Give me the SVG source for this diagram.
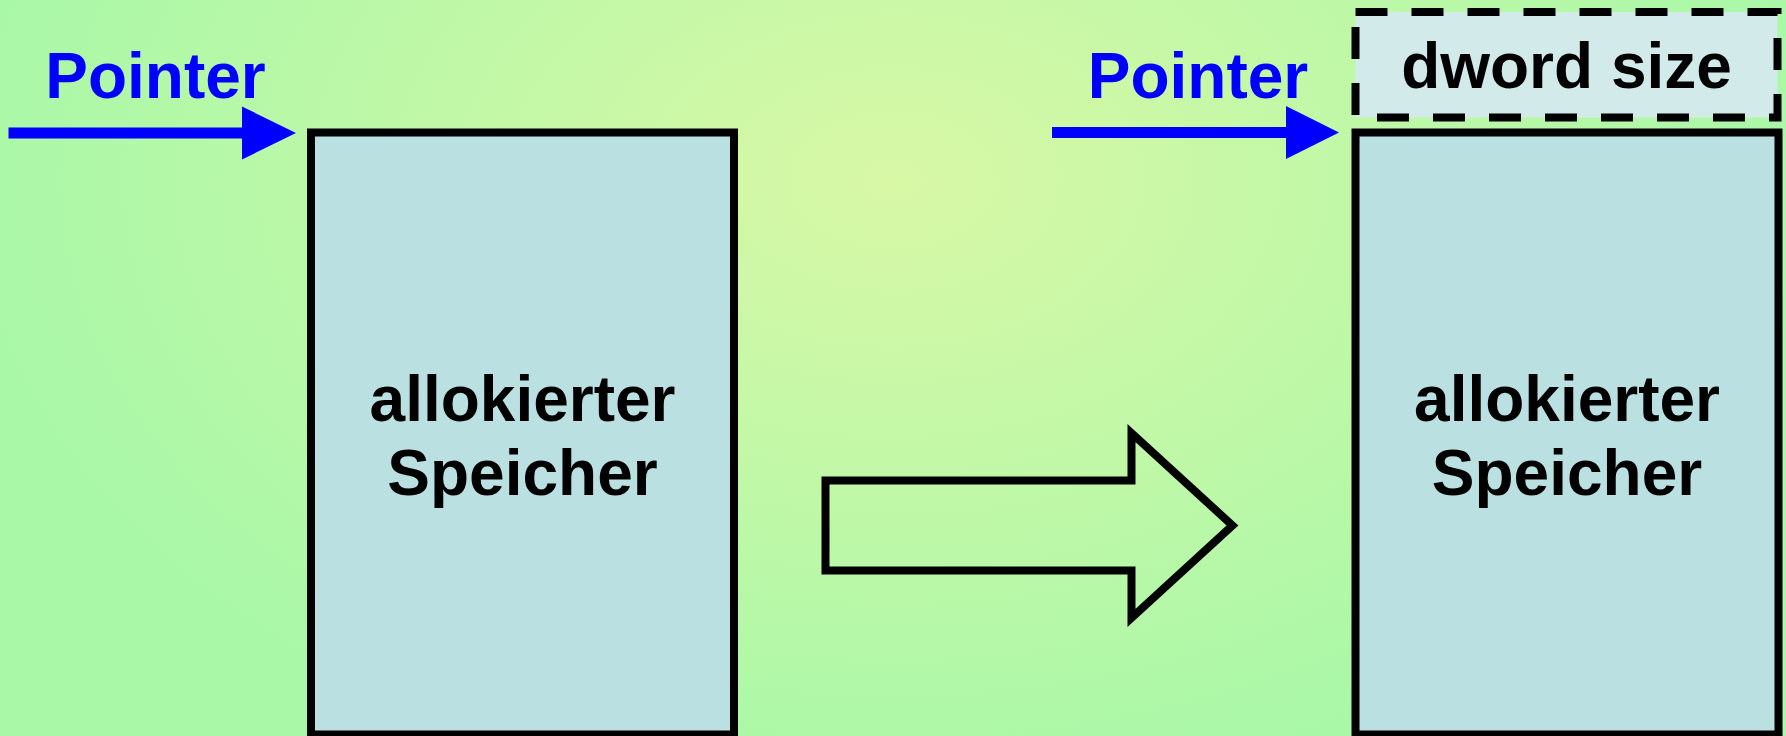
<svg xmlns="http://www.w3.org/2000/svg" width="1786" height="736" viewBox="0 0 1786 736">
  <style>
    .label { font-family: "Liberation Sans", Arial, sans-serif; font-weight: bold; font-size: 64px; text-anchor: middle; }
    .ptr { fill: #0000ff; }
    .txt { fill: #000000; }
    .mem { fill: #bae0e2; stroke: #000000; stroke-width: 8; }
    .hdr { fill: #d3eaea; stroke: #000000; stroke-width: 8; stroke-dasharray: 32 24; }
    .pline { stroke: #0000ff; stroke-width: 11; fill: none; }
    .phead { fill: #0000ff; }
    .big { fill: none; stroke: #000000; stroke-width: 8; stroke-linejoin: miter; }
  </style>
  <defs>
    <radialGradient id="bg" gradientUnits="userSpaceOnUse" cx="893" cy="180" r="940"
                    gradientTransform="translate(0,180) scale(1,0.67) translate(0,-180)">
      <stop offset="0" stop-color="#d8f8a6"/>
      <stop offset="1" stop-color="#a8f8a8"/>
    </radialGradient>
  </defs>

  <!-- background -->
  <rect x="0" y="0" width="1786" height="736" fill="url(#bg)"/>

  <!-- left block: allocated memory -->
  <g id="mem-left">
    <rect class="mem" x="311" y="132.5" width="423" height="602"/>
    <text class="label txt" x="522.5" y="421">allokierter</text>
    <text class="label txt" x="522.5" y="495">Speicher</text>
  </g>

  <!-- left pointer label -->
  <g id="pointer-left">
    <text class="label ptr" x="155.5" y="98">Pointer</text>
  </g>

  <!-- right block: size header + allocated memory -->
  <g id="hdr-right">
    <rect class="hdr" x="1355.5" y="12" width="422" height="105.5"/>
    <text class="label txt" x="1566.5" y="88">dword size</text>
  </g>
  <g id="mem-right">
    <rect class="mem" x="1355.5" y="132.5" width="423" height="602"/>
    <text class="label txt" x="1567" y="421">allokierter</text>
    <text class="label txt" x="1567" y="495">Speicher</text>
  </g>

  <!-- right pointer label -->
  <g id="pointer-right">
    <text class="label ptr" x="1198" y="98">Pointer</text>
  </g>

  <!-- connectors -->
  <g id="connectors">
    <!-- left pointer arrow -->
    <line class="pline" x1="8.5" y1="133" x2="244" y2="133"/>
    <polygon class="phead" points="242,106.5 296,133 242,159.5"/>
    <!-- right pointer arrow -->
    <line class="pline" x1="1052" y1="132.5" x2="1288" y2="132.5"/>
    <polygon class="phead" points="1286,106 1339,132.5 1286,159"/>
    <!-- transformation arrow -->
    <polygon class="big" points="825.5,480.5 1131.5,480.5 1131.5,433 1232.5,525.5 1131.5,618 1131.5,570.5 825.5,570.5"/>
  </g>
</svg>
